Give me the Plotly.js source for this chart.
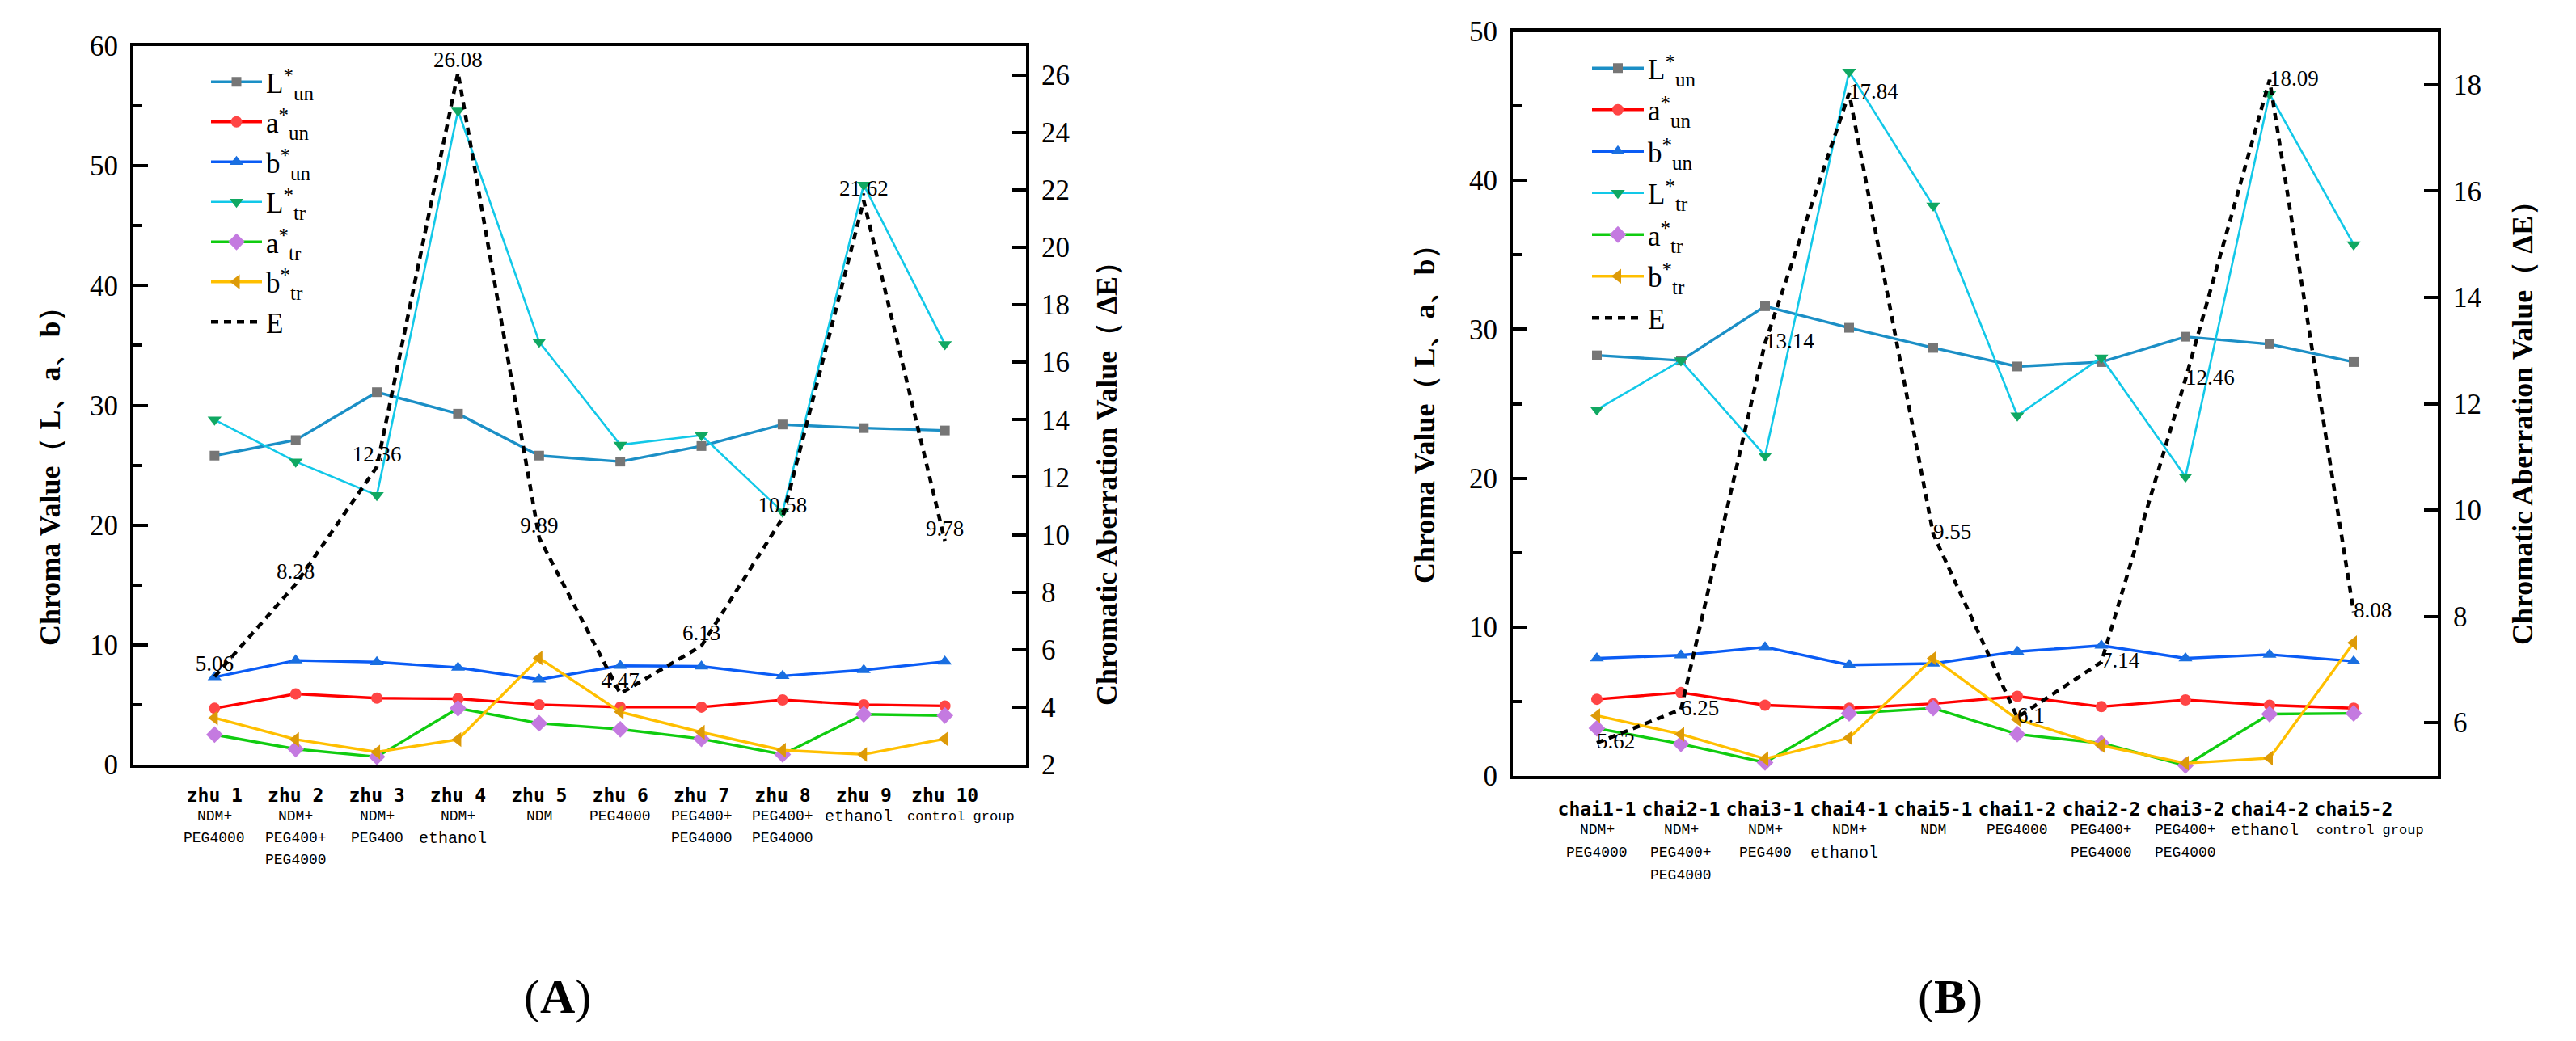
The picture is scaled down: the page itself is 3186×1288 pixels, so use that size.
<!DOCTYPE html>
<html><head><meta charset="utf-8">
<script src="https://cdn.plot.ly/plotly-3.0.1.min.js"></script>
<style>html,body{margin:0;padding:0;background:#fff}</style>
</head><body>
<div id="chart" style="width:3186px;height:1288px"></div>
<script>
// ---------- Data: panel A ----------
const catsA = ['zhu 1','zhu 2','zhu 3','zhu 4','zhu 5','zhu 6','zhu 7','zhu 8','zhu 9','zhu 10'];
const subA = [['NDM+','PEG4000'],['NDM+','PEG400+','PEG4000'],['NDM+','PEG400'],['NDM+','ethanol'],['NDM'],['PEG4000'],['PEG400+','PEG4000'],['PEG400+','PEG4000'],['ethanol'],['control group']];
const LunA = [25.8, 27.1, 31.1, 29.3, 25.8, 25.3, 26.6, 28.4, 28.1, 27.9];
const aunA = [4.7, 5.9, 5.55, 5.5, 5.0, 4.8, 4.8, 5.4, 5.0, 4.9];
const bunA = [7.3, 8.7, 8.55, 8.1, 7.1, 8.25, 8.2, 7.4, 7.9, 8.6];
const LtrA = [28.8, 25.3, 22.5, 54.6, 35.3, 26.7, 27.5, 21.1, 48.4, 35.1];
const atrA = [2.5, 1.3, 0.65, 4.7, 3.45, 2.95, 2.15, 0.85, 4.2, 4.1];
const btrA = [3.9, 2.1, 1.05, 2.1, 8.9, 4.4, 2.7, 1.2, 0.85, 2.15];
const EA   = [5.06, 8.28, 12.36, 26.08, 9.89, 4.47, 6.13, 10.58, 21.62, 9.78];

// ---------- Data: panel B ----------
const catsB = ['chai1-1','chai2-1','chai3-1','chai4-1','chai5-1','chai1-2','chai2-2','chai3-2','chai4-2','chai5-2'];
const subB = [['NDM+','PEG4000'],['NDM+','PEG400+','PEG4000'],['NDM+','PEG400'],['NDM+','ethanol'],['NDM'],['PEG4000'],['PEG400+','PEG4000'],['PEG400+','PEG4000'],['ethanol'],['control group']];
const LunB = [28.25, 27.9, 31.55, 30.1, 28.75, 27.5, 27.8, 29.5, 29.0, 27.8];
const aunB = [5.15, 5.6, 4.75, 4.55, 4.85, 5.35, 4.65, 5.1, 4.75, 4.55];
const bunB = [7.9, 8.1, 8.65, 7.45, 7.55, 8.35, 8.75, 7.9, 8.15, 7.7];
const LtrB = [24.6, 27.9, 21.5, 47.3, 38.3, 24.2, 28.1, 20.1, 45.8, 35.7];
const atrB = [3.2, 2.15, 0.9, 4.2, 4.55, 2.8, 2.2, 0.7, 4.15, 4.2];
const btrB = [4.05, 2.8, 1.15, 2.55, 7.9, 3.8, 2.05, 0.85, 1.2, 8.95];
const EB   = [5.62, 6.25, 13.14, 17.84, 9.55, 6.1, 7.14, 12.46, 18.09, 8.08];

const seriesBase = ['L','a','b','L','a','b'];
const seriesSub  = ['un','un','un','tr','tr','tr'];
const nameE = 'E';

// ---------- Styles ----------
const styles = [
  {line:'#1b8fc6', lw:3.4, mc:'#767676', sym:'square', ms:12},
  {line:'#ff0000', lw:3.4, mc:'#ff4545', sym:'circle', ms:14},
  {line:'#0a5cf5', lw:3.4, mc:'#1a6fe0', sym:'triangle-up', ms:15},
  {line:'#12c8e8', lw:2.6, mc:'#10a862', sym:'triangle-down', ms:15},
  {line:'#10cc10', lw:3.4, mc:'#c47ae0', sym:'diamond', ms:16},
  {line:'#ffbf00', lw:3.4, mc:'#dd9a08', sym:'triangle-left', ms:16}
];
const SERIF = 'Liberation Serif, Times New Roman, serif';
const MONO = 'Liberation Mono, DejaVu Sans Mono, monospace';
const LEG_FS = 35;
const SMALL = Math.round(LEG_FS * 0.7);

function legendName(i){
  return seriesBase[i] +
    '<span style="font-size:'+SMALL+'px;baseline-shift:13px">*</span>' +
    '<span style="font-size:'+SMALL+'px;baseline-shift:-9px">'+seriesSub[i]+'</span>';
}

function makeTraces(cats, vals, E, xa, ya, ya2, legendId, textpos, tag){
  const tr = vals.map((v,i)=>({
    type:'scatter', mode:'lines+markers', x:cats, y:v, xaxis:xa, yaxis:ya, legend:legendId,
    legendgroup:tag+i, name:legendName(i),
    line:{color:styles[i].line, width:styles[i].lw},
    marker:{color:styles[i].mc, symbol:styles[i].sym, size:styles[i].ms, line:{width:0}},
    cliponaxis:false
  }));
  tr.push({
    type:'scatter', mode:'lines+text', x:cats, y:E, xaxis:xa, yaxis:ya2, legend:legendId,
    legendgroup:tag+'E', name:nameE,
    line:{color:'#000000', width:4.5, dash:'9px,7px'},
    text:E.map(String), textposition:textpos,
    textfont:{family:SERIF, size:27, color:'#000'},
    cliponaxis:false
  });
  return tr;
}

const data = [].concat(
  makeTraces(catsA, [LunA,aunA,bunA,LtrA,atrA,btrA], EA, 'x', 'y', 'y2', 'legend', 'top center', 'A'),
  makeTraces(catsB, [LunB,aunB,bunB,LtrB,atrB,btrB], EB, 'x2', 'y3', 'y4', 'legend2', 'middle right', 'B')
);

const W = 3186, H = 1288;
const px = v => v / W, py = v => 1 - v / H;

const yTickFont = {family:SERIF, size:35, color:'#000'};
const baseY = {
  showline:true, linecolor:'#000', linewidth:4, showgrid:false, zeroline:false,
  ticks:'inside', ticklen:18, tickwidth:4, tickcolor:'#000', tickfont:yTickFont,
  ticklabelstandoff:8, fixedrange:true
};
const baseX = {
  type:'category', showline:true, mirror:true, linecolor:'#000', linewidth:4,
  showgrid:false, zeroline:false, ticks:'', range:[-1,10],
  tickfont:{family:'DejaVu Sans Mono, monospace', size:23, weight:'bold', color:'#000'},
  tickangle:0, ticklabelstandoff:14
};

// sub-labels under each category (one annotation per line)
function subAnnotations(cats, subs, xref, bottomPx, firstOff, step){
  const out = [];
  cats.forEach((c,i)=>{
    subs[i].forEach((s,j)=>{
      const big = (s==='ethanol');
      const wide = (s==='control group');
      out.push({xref:xref, yref:'paper', x:c, y:py(bottomPx), yshift:-(firstOff + step*j),
        xshift: wide ? 20 : (big ? -6 : 0),
        text:s, showarrow:false, xanchor:'center', yanchor:'middle',
        font:{family:MONO, size:big?20:(wide?17:18), color:'#000'}});
    });
  });
  return out;
}

const legendBase = {xanchor:'left', yanchor:'top', bgcolor:'rgba(0,0,0,0)',
  font:{family:SERIF, size:LEG_FS, color:'#000'}, traceorder:'grouped'};

const layout = {
  width:W, height:H, margin:{l:0,r:0,t:0,b:0},
  paper_bgcolor:'#fff', plot_bgcolor:'#fff', showlegend:true,
  font:{family:SERIF, color:'#000'},
  xaxis: Object.assign({}, baseX, {domain:[px(165), px(1269)], anchor:'y'}),
  yaxis: Object.assign({}, baseY, {domain:[py(946), py(57)], anchor:'x', range:[0,60], tick0:0, dtick:10,
          minor:{dtick:5, ticks:'inside', ticklen:11, tickwidth:4, tickcolor:'#000'}}),
  yaxis2: Object.assign({}, baseY, {overlaying:'y', side:'right', anchor:'x', range:[2,27], tick0:2, dtick:2, ticklen:17}),
  xaxis2: Object.assign({}, baseX, {domain:[px(1871), px(3015)], anchor:'y3', ticklabelstandoff:17}),
  yaxis3: Object.assign({}, baseY, {domain:[py(960), py(39)], anchor:'x2', range:[0,50], tick0:0, dtick:10,
          minor:{dtick:5, ticks:'inside', ticklen:11, tickwidth:4, tickcolor:'#000'}}),
  yaxis4: Object.assign({}, baseY, {overlaying:'y3', side:'right', anchor:'x2', range:[5,19], tick0:0, dtick:2, ticklen:17}),
  legend: Object.assign({}, legendBase, {x:px(256), y:py(72), itemwidth:63, tracegroupgap:1}),
  legend2: Object.assign({}, legendBase, {x:px(1964), y:py(55), itemwidth:64, tracegroupgap:3}),
  annotations: [
    {xref:'paper', yref:'paper', x:px(62), y:py(581), text:'<b>Chroma Value（ L、a、b）</b>', textangle:-90, showarrow:false,
     font:{family:SERIF, size:36, color:'#000'}, xanchor:'center', yanchor:'middle'},
    {xref:'paper', yref:'paper', x:px(1369), y:py(590), text:'<b>Chromatic Aberration Value（ ΔE）</b>', textangle:-90, showarrow:false,
     font:{family:SERIF, size:36, color:'#000'}, xanchor:'center', yanchor:'middle'},
    {xref:'paper', yref:'paper', x:px(1762), y:py(504), text:'<b>Chroma Value（ L、a、b）</b>', textangle:-90, showarrow:false,
     font:{family:SERIF, size:36, color:'#000'}, xanchor:'center', yanchor:'middle'},
    {xref:'paper', yref:'paper', x:px(3120), y:py(515), text:'<b>Chromatic Aberration Value（ ΔE）</b>', textangle:-90, showarrow:false,
     font:{family:SERIF, size:36, color:'#000'}, xanchor:'center', yanchor:'middle'},
    {xref:'paper', yref:'paper', x:px(689), y:py(1233), text:'(<b>A</b>)', showarrow:false,
     font:{family:SERIF, size:60, color:'#000'}, xanchor:'center', yanchor:'middle'},
    {xref:'paper', yref:'paper', x:px(2412), y:py(1233), text:'(<b>B</b>)', showarrow:false,
     font:{family:SERIF, size:60, color:'#000'}, xanchor:'center', yanchor:'middle'}
  ].concat(
    subAnnotations(catsA, subA, 'x', 946, 64, 27),
    subAnnotations(catsB, subB, 'x2', 960, 67, 28)
  )
};

Plotly.newPlot('chart', data, layout, {displayModeBar:false, staticPlot:true});
</script>
</body></html>
